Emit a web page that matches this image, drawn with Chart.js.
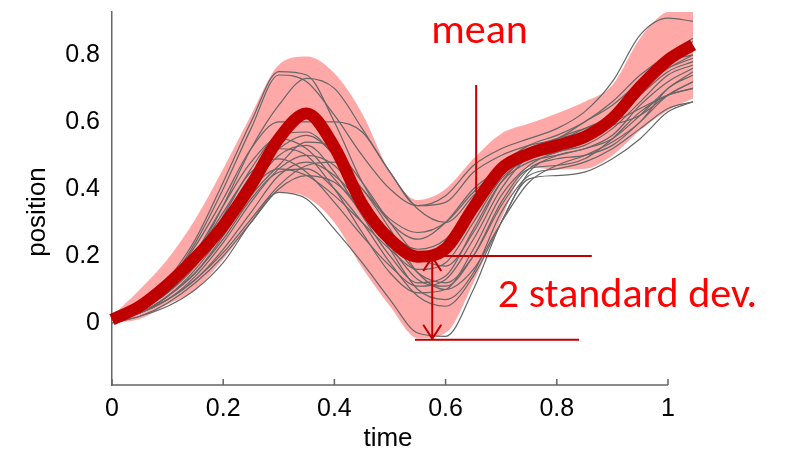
<!DOCTYPE html>
<html>
<head>
<meta charset="utf-8">
<script src="https://cdn.jsdelivr.net/npm/chart.js@4.4.0/dist/chart.umd.min.js"></script>
<style>
  html, body { margin: 0; padding: 0; background: #fff; }
  #wrap { width: 785px; height: 456px; }
</style>
</head>
<body>
<div id="wrap"><canvas id="trajChart" width="785" height="456"></canvas></div>
<script>
// sample times shared by every curve
const timeGrid = [0, 0.05, 0.1, 0.15, 0.2, 0.25, 0.3, 0.35, 0.4, 0.45, 0.5, 0.55, 0.6, 0.65, 0.7, 0.75, 0.8, 0.85, 0.9, 0.95, 1.0, 1.045];

// mean trajectory and the 2 std band around it
const meanPosition = [0.01, 0.05, 0.115, 0.195, 0.29, 0.41, 0.55, 0.625, 0.525, 0.355, 0.25, 0.198, 0.222, 0.345, 0.46, 0.505, 0.53, 0.555, 0.61, 0.705, 0.785, 0.83];
const bandUpper = [0.02, 0.1, 0.19, 0.31, 0.46, 0.62, 0.77, 0.795, 0.745, 0.625, 0.45, 0.367, 0.4, 0.49, 0.565, 0.595, 0.625, 0.66, 0.71, 0.85, 0.93, 0.94];
const bandLower = [0.0, 0.012, 0.055, 0.1, 0.19, 0.3, 0.39, 0.375, 0.3, 0.165, 0.05, -0.045, -0.03, 0.12, 0.31, 0.465, 0.458, 0.46, 0.5, 0.575, 0.635, 0.67];

// individual trials (thin gray lines)
const trial01 = [0.01, 0.05, 0.13, 0.25, 0.42, 0.6, 0.75, 0.74, 0.6, 0.42, 0.3, 0.25, 0.3, 0.4, 0.46, 0.5, 0.54, 0.58, 0.62, 0.7, 0.76, 0.8];
const trial02 = [0.01, 0.04, 0.12, 0.24, 0.4, 0.58, 0.74, 0.72, 0.62, 0.5, 0.4, 0.35, 0.38, 0.47, 0.52, 0.55, 0.58, 0.63, 0.72, 0.86, 0.91, 0.9];
const trial03 = [0.01, 0.05, 0.1, 0.2, 0.35, 0.52, 0.65, 0.73, 0.7, 0.58, 0.45, 0.34, 0.3, 0.38, 0.47, 0.52, 0.55, 0.57, 0.6, 0.68, 0.78, 0.82];
const trial04 = [0.01, 0.05, 0.12, 0.23, 0.37, 0.52, 0.6, 0.6, 0.6, 0.57, 0.45, 0.35, 0.36, 0.45, 0.5, 0.53, 0.55, 0.6, 0.65, 0.72, 0.78, 0.8];
const trial05 = [0.0, 0.02, 0.05, 0.1, 0.18, 0.3, 0.39, 0.37, 0.28, 0.18, 0.07, -0.03, -0.04, 0.1, 0.3, 0.43, 0.44, 0.45, 0.49, 0.55, 0.63, 0.66];
const trial06 = [0.01, 0.03, 0.08, 0.16, 0.27, 0.4, 0.5, 0.53, 0.45, 0.32, 0.2, 0.12, 0.14, 0.28, 0.42, 0.48, 0.5, 0.52, 0.55, 0.62, 0.7, 0.75];
const trial07 = [0.01, 0.04, 0.09, 0.18, 0.3, 0.42, 0.52, 0.5, 0.4, 0.27, 0.15, 0.09, 0.1, 0.22, 0.38, 0.47, 0.51, 0.53, 0.58, 0.66, 0.74, 0.77];
const trial08 = [0.01, 0.03, 0.07, 0.14, 0.24, 0.36, 0.46, 0.5, 0.47, 0.37, 0.25, 0.15, 0.12, 0.2, 0.35, 0.46, 0.49, 0.5, 0.53, 0.6, 0.68, 0.72];
const trial09 = [0.01, 0.04, 0.1, 0.2, 0.33, 0.45, 0.49, 0.45, 0.36, 0.26, 0.17, 0.11, 0.13, 0.25, 0.4, 0.5, 0.55, 0.58, 0.6, 0.64, 0.68, 0.7];
const trial10 = [0.01, 0.03, 0.08, 0.15, 0.26, 0.38, 0.47, 0.54, 0.52, 0.42, 0.3, 0.2, 0.17, 0.27, 0.42, 0.5, 0.52, 0.56, 0.62, 0.7, 0.76, 0.79];
const trial11 = [0.01, 0.03, 0.07, 0.13, 0.22, 0.33, 0.44, 0.48, 0.44, 0.35, 0.22, 0.1, 0.07, 0.15, 0.33, 0.44, 0.46, 0.48, 0.52, 0.58, 0.64, 0.66];
const trial12 = [0.01, 0.04, 0.09, 0.17, 0.29, 0.4, 0.46, 0.44, 0.38, 0.3, 0.22, 0.16, 0.18, 0.3, 0.43, 0.49, 0.51, 0.54, 0.6, 0.68, 0.75, 0.78];
const trial13 = [0.01, 0.03, 0.07, 0.13, 0.21, 0.31, 0.41, 0.47, 0.48, 0.4, 0.28, 0.15, 0.1, 0.16, 0.3, 0.42, 0.47, 0.5, 0.54, 0.6, 0.7, 0.74];
const trial14 = [0.01, 0.05, 0.11, 0.21, 0.35, 0.48, 0.55, 0.52, 0.43, 0.33, 0.24, 0.19, 0.22, 0.33, 0.45, 0.51, 0.53, 0.56, 0.59, 0.62, 0.68, 0.72];
const trial15 = [0.01, 0.03, 0.08, 0.15, 0.25, 0.37, 0.45, 0.46, 0.4, 0.3, 0.18, 0.08, 0.05, 0.14, 0.3, 0.45, 0.5, 0.52, 0.56, 0.65, 0.72, 0.76];
const trial16 = [0.01, 0.04, 0.1, 0.19, 0.31, 0.44, 0.52, 0.56, 0.5, 0.38, 0.27, 0.22, 0.25, 0.36, 0.47, 0.53, 0.56, 0.6, 0.66, 0.74, 0.8, 0.84];
const trial17 = [0.0, 0.02, 0.06, 0.12, 0.2, 0.3, 0.4, 0.44, 0.42, 0.34, 0.23, 0.13, 0.11, 0.2, 0.36, 0.46, 0.47, 0.49, 0.55, 0.63, 0.68, 0.7];
const trial18 = [0.01, 0.04, 0.1, 0.19, 0.32, 0.46, 0.56, 0.57, 0.5, 0.4, 0.31, 0.27, 0.3, 0.39, 0.46, 0.5, 0.52, 0.55, 0.6, 0.7, 0.8, 0.85];
const trials = [trial01, trial02, trial03, trial04, trial05, trial06, trial07, trial08, trial09,
                trial10, trial11, trial12, trial13, trial14, trial15, trial16, trial17, trial18];

const xTickValues = [0, 0.2, 0.4, 0.6, 0.8, 1];
const yTickValues = [0, 0.2, 0.4, 0.6, 0.8];

// annotation anchors in data units
const meanPointer = { x: 0.655, yTop: 0.71, yBottom: 0.39 };
const meanLabel = { text: 'mean', x: 0.661, y: 0.836 };
const sdMarker = { x: 0.576, yHigh: 0.2, yLow: -0.05, highFrom: 0.585, highTo: 0.863, lowFrom: 0.545, lowTo: 0.84 };
const sdLabel = { text: '2 standard dev.', x: 0.694, y: 0.049 };

const toPoints = arr => timeGrid.map((t, i) => ({ x: t, y: arr[i] }));

const datasets = [];
datasets.push({
    data: toPoints(meanPosition),
    borderColor: '#c00000',
    borderWidth: 12,
    borderCapStyle: 'butt',
    borderJoinStyle: 'round',
    cubicInterpolationMode: 'monotone',
    pointRadius: 0,
    fill: false,
    clip: false,
    order: 0
});
trials.forEach(tr => datasets.push({
    data: toPoints(tr),
    borderColor: '#666666',
    borderWidth: 1.2,
    cubicInterpolationMode: 'monotone',
    pointRadius: 0,
    fill: false,
    clip: false,
    order: 1
}));
datasets.push({
    data: toPoints(bandUpper),
    borderColor: 'rgba(0,0,0,0)',
    borderWidth: 0,
    backgroundColor: '#ffa8a8',
    cubicInterpolationMode: 'monotone',
    pointRadius: 0,
    fill: '+1',
    clip: false,
    order: 2
});
datasets.push({
    data: toPoints(bandLower),
    borderColor: 'rgba(0,0,0,0)',
    borderWidth: 0,
    cubicInterpolationMode: 'monotone',
    pointRadius: 0,
    fill: false,
    clip: false,
    order: 2
});

// axis line, labels and the red annotations
const decorations = {
    id: 'decorations',
    afterDatasetsDraw(chart) {
        const { ctx, chartArea, scales: { x, y } } = chart;
        ctx.save();

        // x axis stops at time = 1, ticks point inward
        const base = chartArea.bottom;
        ctx.strokeStyle = '#666';
        ctx.lineWidth = 1.5;
        ctx.beginPath();
        ctx.moveTo(x.getPixelForValue(0), base);
        ctx.lineTo(x.getPixelForValue(1), base);
        xTickValues.forEach(v => {
            const px = x.getPixelForValue(v);
            ctx.moveTo(px, base);
            ctx.lineTo(px, base - 6);
        });
        ctx.stroke();

        // axis titles
        ctx.fillStyle = '#000';
        ctx.font = '26px "Liberation Sans", Arial, sans-serif';
        ctx.textAlign = 'center';
        ctx.textBaseline = 'middle';
        ctx.fillText('time', 388, 439);
        ctx.save();
        ctx.translate(38, 212);
        ctx.rotate(-Math.PI / 2);
        ctx.fillText('position', 0, 0);
        ctx.restore();

        // mean pointer
        ctx.strokeStyle = '#c00000';
        ctx.lineWidth = 2;
        ctx.beginPath();
        const mx = x.getPixelForValue(meanPointer.x);
        ctx.moveTo(mx, y.getPixelForValue(meanPointer.yTop));
        ctx.lineTo(mx, y.getPixelForValue(meanPointer.yBottom));

        // std marker: two horizontal rules and a double arrow
        const yh = y.getPixelForValue(sdMarker.yHigh);
        const yl = y.getPixelForValue(sdMarker.yLow);
        ctx.moveTo(x.getPixelForValue(sdMarker.highFrom), yh);
        ctx.lineTo(x.getPixelForValue(sdMarker.highTo), yh);
        ctx.moveTo(x.getPixelForValue(sdMarker.lowFrom), yl);
        ctx.lineTo(x.getPixelForValue(sdMarker.lowTo), yl);
        const ax = x.getPixelForValue(sdMarker.x);
        ctx.moveTo(ax, yh + 1);
        ctx.lineTo(ax, yl - 1);
        ctx.moveTo(ax - 9, yh + 15);
        ctx.lineTo(ax, yh + 1);
        ctx.lineTo(ax + 9, yh + 15);
        ctx.moveTo(ax - 9, yl - 15);
        ctx.lineTo(ax, yl - 1);
        ctx.lineTo(ax + 9, yl - 15);
        ctx.stroke();

        ctx.fillStyle = '#ff0000';
        ctx.font = '42px Carlito, Lato, sans-serif';
        ctx.textBaseline = 'alphabetic';
        ctx.textAlign = 'center';
        ctx.fillText(meanLabel.text, x.getPixelForValue(meanLabel.x), y.getPixelForValue(meanLabel.y));
        ctx.textAlign = 'left';
        ctx.fillText(sdLabel.text, x.getPixelForValue(sdLabel.x), y.getPixelForValue(sdLabel.y));

        ctx.restore();
    }
};

// drop the label overhang chart.js reserves, the layout padding handles it
const noScalePadding = s => { s.paddingTop = 0; s.paddingBottom = 0; s.paddingLeft = 0; s.paddingRight = 0; };

const ctx = document.getElementById('trajChart').getContext('2d');
const trajChart = new Chart(ctx, {
    type: 'line',
    data: { datasets: datasets },
    options: {
        responsive: false,
        animation: false,
        devicePixelRatio: 1,
        layout: { padding: { top: 12, right: 92, bottom: 0, left: 0 } },
        plugins: { legend: { display: false }, tooltip: { enabled: false } },
        scales: {
            x: {
                type: 'linear',
                min: 0,
                max: 1.045,
                afterBuildTicks: s => { s.ticks = xTickValues.map(v => ({ value: v })); },
                afterFit: s => { s.height = 71; noScalePadding(s); },
                grid: { display: false, drawTicks: false },
                border: { display: false },
                ticks: {
                    padding: 9,
                    color: '#000',
                    font: { family: '"Liberation Sans", Arial, sans-serif', size: 25 },
                    maxRotation: 0,
                    autoSkip: false,
                    callback: v => String(v)
                }
            },
            y: {
                type: 'linear',
                min: -0.185,
                max: 0.928,
                afterBuildTicks: s => { s.ticks = yTickValues.map(v => ({ value: v })); },
                afterFit: s => { s.width = 112; noScalePadding(s); },
                grid: { display: false, drawTicks: false },
                border: { display: true, color: '#666', width: 1.5 },
                ticks: {
                    padding: 12,
                    color: '#000',
                    font: { family: '"Liberation Sans", Arial, sans-serif', size: 25 },
                    autoSkip: false,
                    callback: v => String(v)
                }
            }
        }
    },
    plugins: [decorations]
});
</script>
</body>
</html>
